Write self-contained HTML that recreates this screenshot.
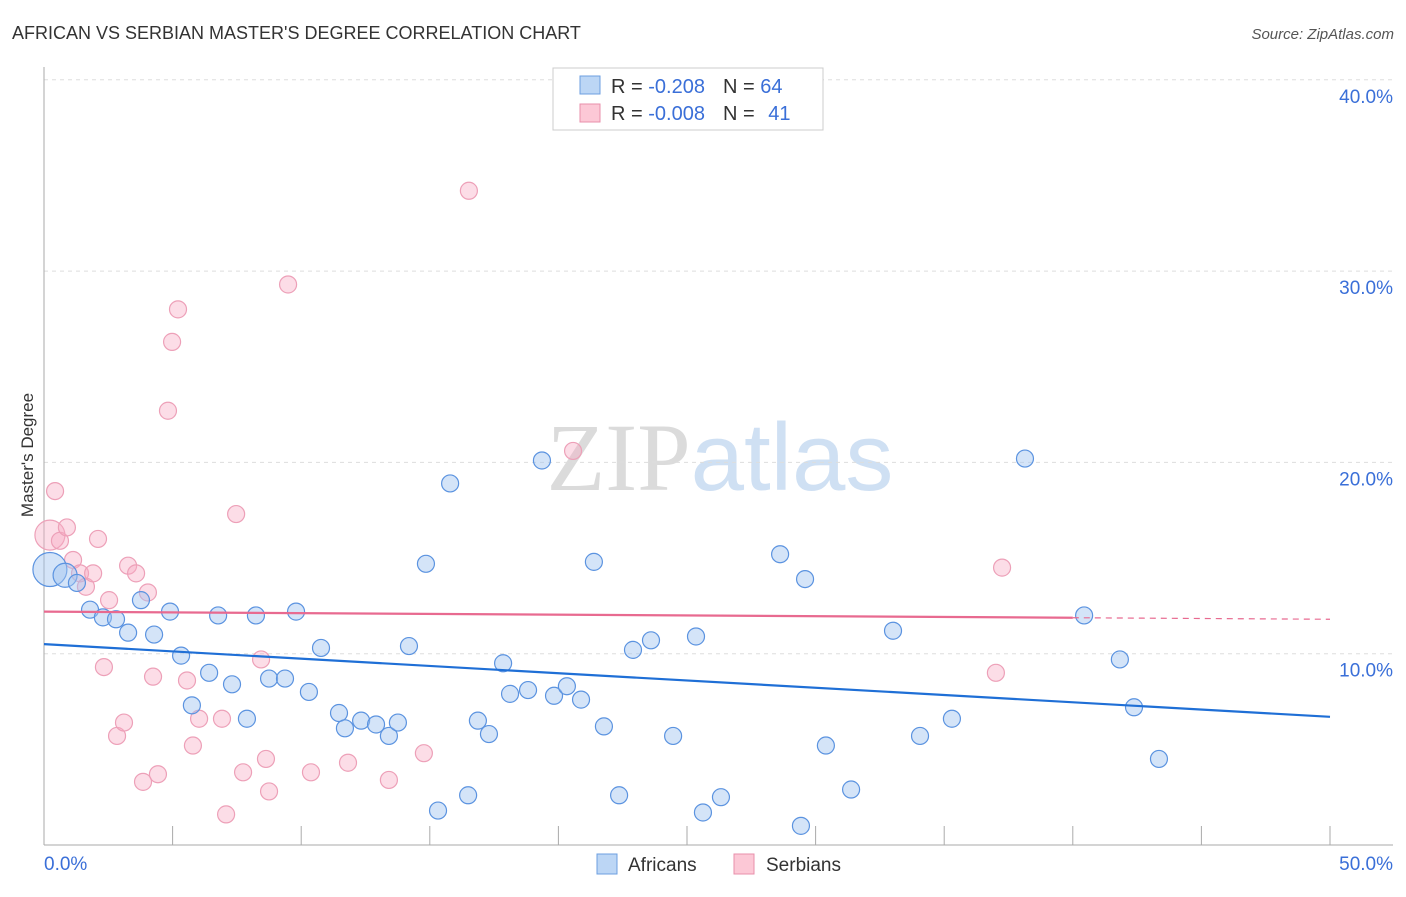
<!DOCTYPE html>
<html><head><meta charset="utf-8"><style>
body{margin:0;background:#fff;font-family:"Liberation Sans",sans-serif}
</style></head><body>
<svg id="chart" width="1406" height="892" xmlns="http://www.w3.org/2000/svg" font-family="Liberation Sans, sans-serif">
<text x="12" y="39" font-size="18" fill="#333">AFRICAN VS SERBIAN MASTER'S DEGREE CORRELATION CHART</text>
<text x="1394" y="39" font-size="15" fill="#555" text-anchor="end" font-style="italic">Source: ZipAtlas.com</text>
<text x="720" y="490" font-size="96" text-anchor="middle" fill="#ddd" opacity="0.7"><tspan font-family="Liberation Serif, serif" fill="#ccc">ZIP</tspan><tspan fill="#bcd3ee">atlas</tspan></text>
<text transform="translate(33,455) rotate(-90)" font-size="17" fill="#333" text-anchor="middle">Master's Degree</text>
<g id="grid"></g><g id="axes"></g><g id="pts"></g><g id="trend"></g>
<g>
<rect x="553" y="68" width="270" height="62" fill="#fff" stroke="#ccc"/>
<rect x="580" y="76" width="20" height="18" fill="#bcd6f5" stroke="#6c9fe0"/>
<rect x="580" y="104" width="20" height="18" fill="#fcc8d6" stroke="#e88fab"/>
<text x="611" y="93" font-size="20" fill="#333">R = <tspan fill="#3a6fd8">-0.208</tspan><tspan dx="18">N = </tspan><tspan fill="#3a6fd8">64</tspan></text>
<text x="611" y="120" font-size="20" fill="#333">R = <tspan fill="#3a6fd8">-0.008</tspan><tspan dx="18">N = </tspan><tspan fill="#3a6fd8" dx="8">41</tspan></text>
</g>
<g>
<rect x="597" y="854" width="20" height="20" fill="#bcd6f5" stroke="#6c9fe0"/>
<text x="628" y="871" font-size="19" fill="#333">Africans</text>
<rect x="734" y="854" width="20" height="20" fill="#fcc8d6" stroke="#e88fab"/>
<text x="766" y="871" font-size="19" fill="#333">Serbians</text>
</g>
</svg>
<script>
const africansX=[0.23,0.82,1.28,1.79,2.29,2.80,3.27,3.77,4.28,4.90,5.33,5.75,6.42,6.77,7.31,7.89,8.24,8.75,9.37,9.80,10.30,10.77,11.47,11.70,12.33,12.91,13.41,13.76,14.19,14.85,15.32,15.79,16.49,16.87,17.30,17.85,18.12,18.82,19.36,19.83,20.33,20.88,21.38,21.77,22.36,22.90,23.60,24.46,25.35,25.62,26.32,28.62,29.43,29.59,30.40,31.38,33.01,34.06,35.30,38.14,40.44,41.83,42.38,43.35];
const africansY=[14.4,14.1,13.7,12.3,11.9,11.8,11.1,12.8,11.0,12.2,9.9,7.3,9.0,12.0,8.4,6.6,12.0,8.7,8.7,12.2,8.0,10.3,6.9,6.1,6.5,6.3,5.7,6.4,10.4,14.7,1.8,18.9,2.6,6.5,5.8,9.5,7.9,8.1,20.1,7.8,8.3,7.6,14.8,6.2,2.6,10.2,10.7,5.7,10.9,1.7,2.5,15.2,1.0,13.9,5.2,2.9,11.2,5.7,6.6,20.2,12.0,9.7,7.2,4.5];
const serbiansX=[0.23,0.43,0.62,0.89,1.13,1.40,1.63,1.91,2.10,2.53,2.33,2.84,3.11,3.27,3.58,3.85,4.04,4.24,4.43,4.82,4.98,5.21,5.56,5.79,6.03,6.92,7.08,7.47,7.74,8.44,8.63,8.75,9.49,10.38,11.82,13.41,14.77,16.52,20.57,37.01,37.25];
const serbiansY=[16.2,18.5,15.9,16.6,14.9,14.2,13.5,14.2,16.0,12.8,9.3,5.7,6.4,14.6,14.2,3.3,13.2,8.8,3.7,22.7,26.3,28.0,8.6,5.2,6.6,6.6,1.6,17.3,3.8,9.7,4.5,2.8,29.3,3.8,4.3,3.4,4.8,34.2,20.6,9.0,14.5];
const yTicks=[10,20,30,40];
const xTickLabels=["0.0%","50.0%"];
const africansTrend=[10.5,6.7];
const serbiansTrend=[12.2,11.8];
const NS="http://www.w3.org/2000/svg";
const X=v=>44+v/50*1286, Y=v=>845-v*19.13;
function mk(tag,attrs,parent){const e=document.createElementNS(NS,tag);for(const k in attrs)e.setAttribute(k,attrs[k]);document.getElementById(parent).appendChild(e);return e;}
yTicks.forEach(t=>{
 const l=mk('line',{x1:44,x2:1393,y1:Y(t),y2:Y(t),stroke:'#ddd','stroke-dasharray':'4,4'},'grid');
 
 
 const tx=mk('text',{x:1393,y:Y(t)+23,'font-size':19,fill:'#3a6fd8','text-anchor':'end'},'grid');
 tx.textContent=t.toFixed(1)+'%';
 
 
});
mk('line',{x1:44,x2:44,y1:67,y2:845,stroke:'#aaa'},'axes');
const xa=mk('line',{x1:44,x2:1393,y1:845,y2:845,stroke:'#aaa'},'axes');


for(let i=1;i<=10;i++){mk('line',{x1:X(i*5),x2:X(i*5),y1:826,y2:845,stroke:'#aaa'},'axes');}
xTickLabels.forEach((s,i)=>{
 const t=mk('text',{x:i?1393:44,y:870,'font-size':19,fill:'#3a6fd8','text-anchor':i?'end':'start'},'axes');
 t.textContent=s;
 
 
});
serbiansX.forEach((x,i)=>{
 const c=mk('circle',{cx:X(x),cy:Y(serbiansY[i]),r:i==0?15:8.5,fill:'rgba(248,170,195,0.4)',stroke:'#eda0b8','stroke-width':1.2},'pts');
 
 
});
africansX.forEach((x,i)=>{
 const c=mk('circle',{cx:X(x),cy:Y(africansY[i]),r:i==0?17:(i==1?12:8.5),fill:'rgba(160,195,240,0.45)',stroke:'#5b93e0','stroke-width':1.2},'pts');
 
 
});
const bt=mk('line',{x1:X(0),x2:X(50),y1:Y(africansTrend[0]),y2:Y(africansTrend[1]),stroke:'#1f6fd6','stroke-width':2.2},'trend');


const sl=v=>serbiansTrend[0]+(serbiansTrend[1]-serbiansTrend[0])*v/50;
const pt=mk('line',{x1:X(0),x2:X(40),y1:Y(sl(0)),y2:Y(sl(40)),stroke:'#e86a90','stroke-width':2.2},'trend');


const pd=mk('line',{x1:X(40),x2:X(50),y1:Y(sl(40)),y2:Y(sl(50)),stroke:'#e86a90','stroke-width':1.2,'stroke-dasharray':'6,5'},'trend');


</script>
</body></html>
